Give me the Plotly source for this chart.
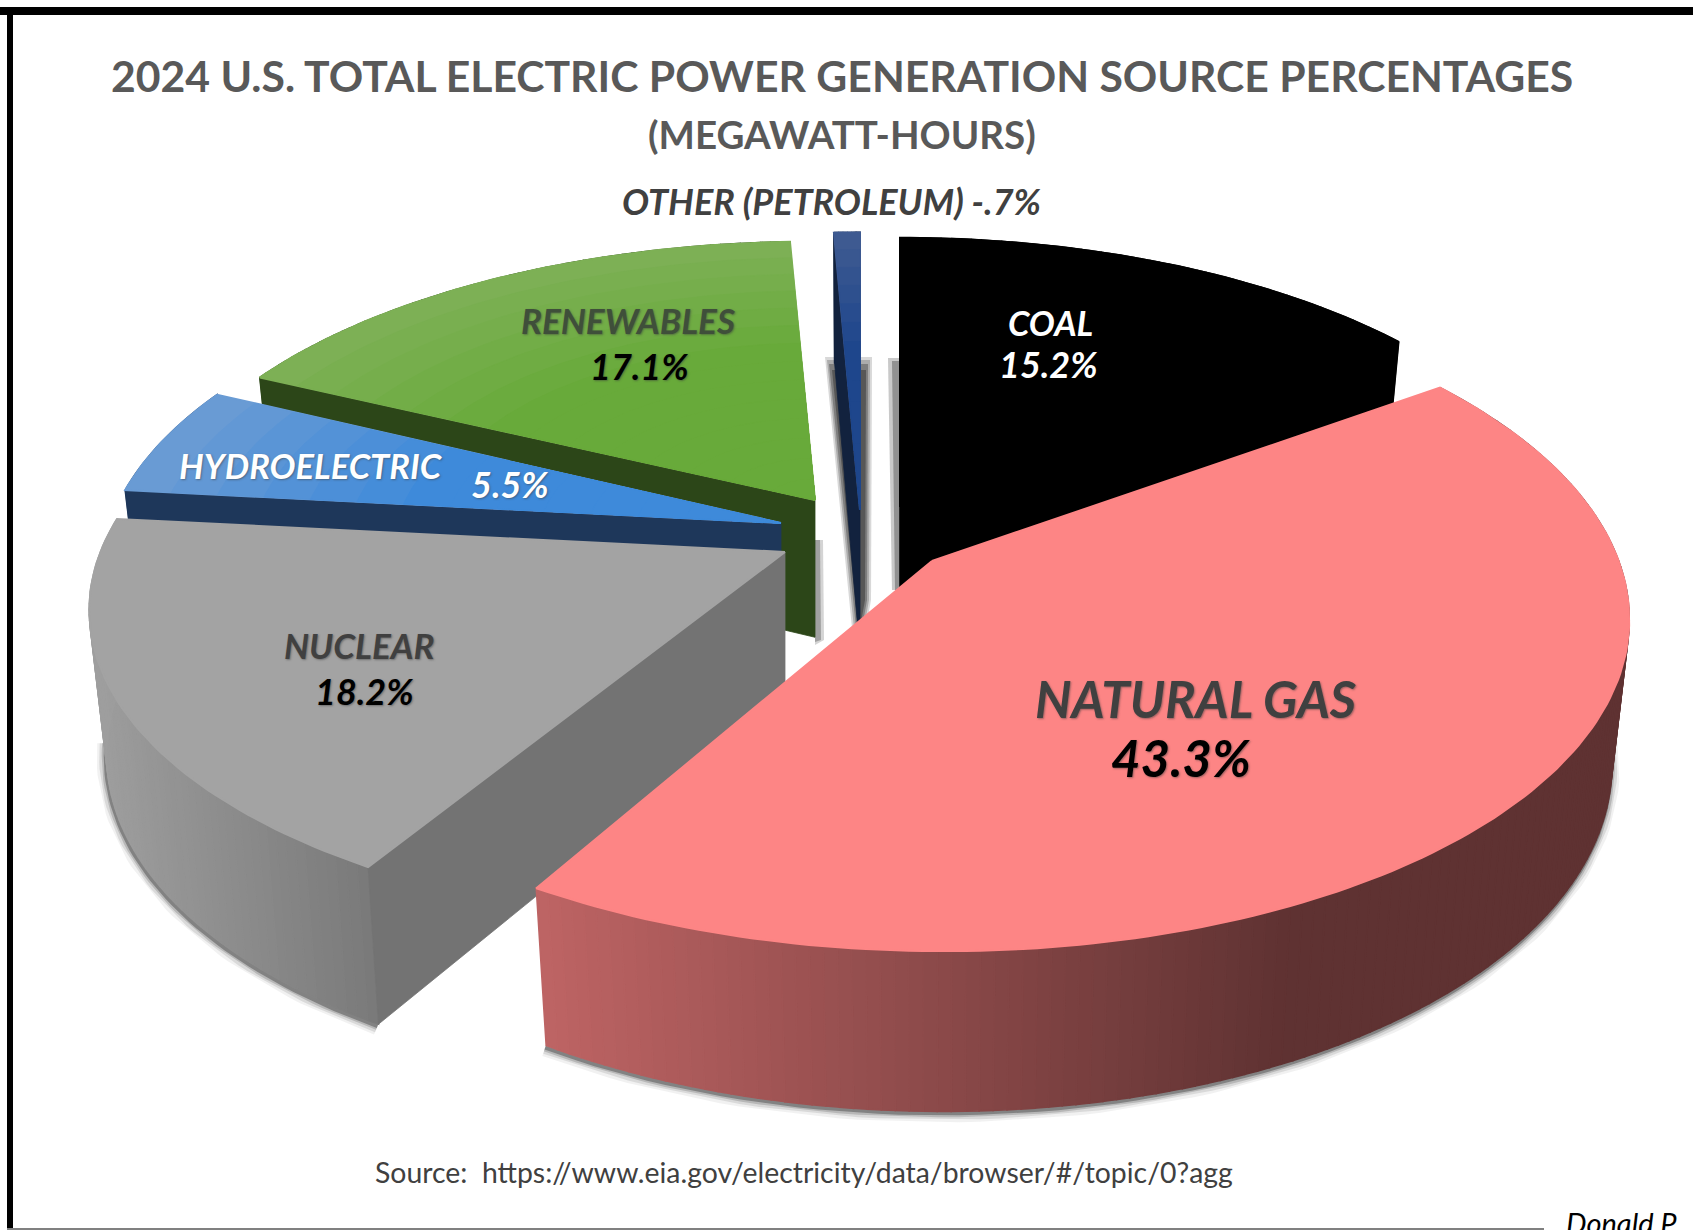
import math
import plotly.graph_objects as go

# ---- data ----
categories = ["COAL", "NATURAL GAS", "NUCLEAR", "HYDROELECTRIC", "RENEWABLES", "OTHER (PETROLEUM)"]
shares = [15.2, 43.3, 18.2, 5.5, 17.1, 0.7]
share_labels = ["15.2%", "43.3%", "18.2%", "5.5%", "17.1%", "-.7%"]

# ---- styling / projection of the exploded 3-D pie ----
W, H = 1693, 1230
RX, RY, PERSP, DEPTH, BOTTOM = 688.0, 322.0, 0.16, 143.0, 0.975
CENTRE = {  # apex x, apex y, scale, shear, y scale, depth factor of each exploded slice
    "COAL": (900, 507, 0.97, 0.0, 1.0, 1.0),
    "NATURAL GAS": (932, 561, 0.998, -0.03, 1.02, 1.0),
    "NUCLEAR": (785, 552, 0.995, 0.04, 0.985, 1.0),
    "HYDROELECTRIC": (781, 523, 0.975, 0.0, 1.0, 1.0),
    "RENEWABLES": (815, 500, 0.96, 0.0, 0.97, 1.0),
    "OTHER (PETROLEUM)": (860, 510, 1.0, 0.0, 1.0, 1.0),
}
STYLE = {  # top outer, top inner, radial face, side colour left, side colour right
    "COAL": ((0, 0, 0), (0, 0, 0), (0, 0, 0), (0, 0, 0), (0, 0, 0)),
    "NATURAL GAS": ((253, 133, 133), (253, 133, 133), (95, 50, 50), (190, 100, 100), (95, 50, 50)),
    "NUCLEAR": ((163, 163, 163), (163, 163, 163), (115, 115, 115), (158, 158, 158), (122, 122, 122)),
    "HYDROELECTRIC": ((105, 155, 212), (62, 138, 218), (30, 55, 90), (30, 55, 90), (30, 55, 90)),
    "RENEWABLES": ((125, 176, 85), (104, 170, 58), (44, 70, 24), (44, 70, 24), (44, 70, 24)),
    "OTHER (PETROLEUM)": ((62, 90, 145), (30, 70, 140), (18, 34, 62), (18, 34, 62), (18, 34, 62)),
}
GAS_DARK_X = 1290
DRAW_ORDER = ["RENEWABLES", "HYDROELECTRIC", "OTHER (PETROLEUM)", "COAL", "NUCLEAR", "NATURAL GAS"]
FONT = "Lato"

total = sum(shares)
start = {}
acc = 0.0
for c, s in zip(categories, shares):
    start[c] = (acc, acc + s / total * 360.0)
    acc += s / total * 360.0


def proj(theta, r=1.0):
    t = math.radians(theta)
    u, v = r * math.sin(t), r * math.cos(t)
    w = 1 + PERSP * v
    return RX * u / w, RY * v / w, w


def top_pt(c, theta, r=1.0):
    ax, ay, s, sh, ys, _ = CENTRE[c]
    x, y, _w = proj(theta, r)
    return ax + s * (x + sh * y), ay - s * ys * y


def bot_pt(c, theta, r=1.0):
    ax, ay, s, sh, ys, df = CENTRE[c]
    x, y, w = proj(theta, r)
    return ax + BOTTOM * s * (x + sh * y), ay - BOTTOM * s * ys * y + s * df * DEPTH / w


def css(col):
    return "rgb(%d,%d,%d)" % tuple(round(k) for k in col)


def mix(a, b, f):
    f = max(0.0, min(1.0, f))
    return tuple(a[i] + (b[i] - a[i]) * f for i in range(3))


fig = go.Figure()


def poly(pts, col, lw=0.8):
    xs = [p[0] for p in pts] + [pts[0][0]]
    ys = [p[1] for p in pts] + [pts[0][1]]
    fig.add_trace(go.Scatter(x=xs, y=ys, mode="lines", fill="toself", fillcolor=col,
                             line=dict(color=col, width=lw), hoverinfo="skip", showlegend=False))


def arc_angles(a, b, n):
    return [a + (b - a) * i / n for i in range(n + 1)]


# soft shadows beneath the near slices
for c in ["NUCLEAR", "NATURAL GAS"]:
    a, b = start[c]
    pts = [bot_pt(c, t) for t in arc_angles(max(a, 95), b, 80)]
    if c == "NUCLEAR":
        pts = [bot_pt(c, t) for t in arc_angles(a, min(b, 262), 50)]
    for width, alpha in [(18, 0.07), (13, 0.12), (8, 0.2), (4, 0.4)]:
        fig.add_trace(go.Scatter(x=[p[0] - 1 for p in pts], y=[p[1] + 2 for p in pts], mode="lines",
                                 line=dict(color="rgba(50,50,50,%s)" % alpha, width=width),
                                 hoverinfo="skip", showlegend=False))

for c in DRAW_ORDER:
    a, b = start[c]
    outer, inner, radial, side_l, side_r = STYLE[c]
    ax, ay, s = CENTRE[c][:3]
    apex_bot = (ax, ay + s * DEPTH)
    # outer wall, strip by strip for the gradient
    n = max(6, int(b - a))
    angs = arc_angles(a, b, n)
    xmin = min(top_pt(c, t)[0] for t in angs)
    xmax = GAS_DARK_X if c == "NATURAL GAS" else max(top_pt(c, t)[0] for t in angs)
    if c == "NUCLEAR":
        xmax = ax - 420
    for t0, t1 in zip(angs[:-1], angs[1:]):
        xm = top_pt(c, (t0 + t1) / 2)[0]
        f = (xm - xmin) / max(1.0, xmax - xmin)
        poly([top_pt(c, t0), top_pt(c, t1), bot_pt(c, t1), bot_pt(c, t0)], css(mix(side_l, side_r, f)), 1.6)
    # radial walls
    if c == "COAL":
        poly([(ax, ay), top_pt(c, b), bot_pt(c, b), apex_bot], css(radial))
        poly([(ax, ay), top_pt(c, a), bot_pt(c, a), apex_bot], css(radial))
    elif c != "NATURAL GAS":
        poly([(ax, ay), top_pt(c, a), bot_pt(c, a), apex_bot], css(radial))
    # top face, concentric layers for the soft gradient
    layers = 1 if outer == inner else 14
    for k in range(layers):
        r = 1.0 - k / layers
        col = mix(outer, inner, k / max(1, layers - 1) * 2.2)
        poly([(ax, ay)] + [top_pt(c, t, r) for t in arc_angles(a, b, max(4, int(b - a)))], css(col),
             2.0 if k == 0 else 0.8)


def label(text, x, y, size, color, weight=700, italic=True, shadow="none", anchor="center"):
    fig.add_annotation(x=x, y=y, text=text, showarrow=False, xanchor=anchor, yanchor="middle",
                       font=dict(family=FONT, size=size, color=color, weight=weight,
                                 style="italic" if italic else "normal", shadow=shadow))


GRAY = "#595959"
DARK = "#404040"
label("2024 U.S. TOTAL ELECTRIC POWER GENERATION SOURCE PERCENTAGES", 842, 75, 42.7, GRAY, italic=False)
label("(MEGAWATT-HOURS)", 842, 134, 38.5, GRAY, italic=False)
label("%s %s" % (categories[5], share_labels[5]), 831, 201, 36, DARK)
sh_d = "1px 1px 2px rgba(60,60,60,.5)"
label(categories[4], 628, 320, 35, "#3f4f3a", shadow=sh_d)
label(share_labels[4], 639, 366, 36, "#000000", shadow=sh_d)
label(categories[3], 311, 465, 34.5, "#ffffff", shadow=sh_d)
label(share_labels[3], 510, 484, 36, "#ffffff", shadow=sh_d)
label(categories[0], 1050, 322, 34.5, "#ffffff")
label(share_labels[0], 1048, 364, 36, "#ffffff")
label(categories[2], 359, 645, 35, DARK, shadow=sh_d)
label(share_labels[2], 364, 691, 36, "#000000", shadow=sh_d)
label(categories[1], 1195, 698, 51, DARK, shadow=sh_d)
label(share_labels[1], 1181, 757, 51, "#000000", shadow=sh_d)
label("Source:  https://www.eia.gov/electricity/data/browser/#/topic/0?agg", 804, 1172, 28.4, DARK, weight=400, italic=False)
label("Donald P.", 1564, 1222, 29, "#000000", weight=400, anchor="left")


def soft(path, alpha):
    return dict(type="path", path=path, fillcolor="rgba(40,40,40,%s)" % alpha, line_width=0, layer="below")


shapes = [
    dict(type="rect", x0=0, x1=W, y0=7, y1=15, fillcolor="#000", line_width=0, layer="above"),
    dict(type="rect", x0=7, x1=13, y0=7, y1=H, fillcolor="#000", line_width=0, layer="above"),
    dict(type="rect", x0=7, x1=1544, y0=1228, y1=H, fillcolor="#808080", line_width=0, layer="above"),
    # blurred drop shadows in the gaps beside the thin slice and the coal slice
    soft("M 825 357 L 872 357 L 871 600 L 866 628 L 852 628 Z", 0.18),
    soft("M 827 360 L 870 360 L 869 600 L 864 628 L 854 628 Z", 0.25),
    soft("M 829 364 L 868 364 L 867 600 L 862 628 L 856 628 Z", 0.35),
    soft("M 832 370 L 866 370 L 865 600 L 860 628 L 858 628 Z", 0.45),
    soft("M 888 358 L 900 358 L 900 590 L 892 590 Z", 0.25),
    soft("M 892 361 L 900 361 L 900 590 L 895 590 Z", 0.35),
    soft("M 815 540 L 823 540 L 824 640 L 815 645 Z", 0.2),
    soft("M 815 540 L 820 540 L 821 640 L 815 642 Z", 0.3),
]

fig.update_layout(
    width=W, height=H, margin=dict(l=0, r=0, t=0, b=0), paper_bgcolor="#ffffff", plot_bgcolor="#ffffff",
    xaxis=dict(range=[0, W], visible=False, fixedrange=True),
    yaxis=dict(range=[H, 0], visible=False, fixedrange=True),
    showlegend=False, shapes=shapes, hovermode=False,
)
fig.write_html("out.html", config={"displayModeBar": False},
               post_script="document.body.style.margin='0';document.documentElement.style.overflow='hidden';")
